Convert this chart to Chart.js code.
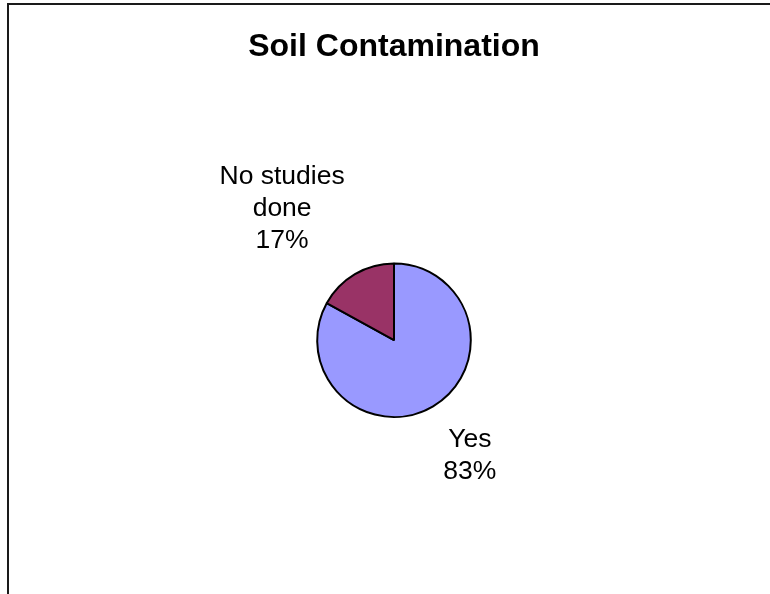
<!DOCTYPE html>
<html>
<head>
<meta charset="utf-8">
<title>Soil Contamination</title>
<script src="https://cdn.jsdelivr.net/npm/chart.js@4.4.0/dist/chart.umd.min.js"></script>
<style>
  html, body { margin: 0; padding: 0; background: #fff; }
  #wrap { position: relative; width: 770px; height: 594px; }
  #frame {
    position: absolute; left: 7px; top: 3px; right: 0; bottom: 0;
    border-top: 2px solid #1a1a1a; border-left: 2px solid #1a1a1a;
  }
  canvas { position: absolute; left: 0; top: 0; }
</style>
</head>
<body>
<div id="wrap">
  <div id="frame"></div>
  <canvas id="soilChart" width="770" height="594"></canvas>
</div>
<script>
// Survey answers
var categories = [["Yes"], ["No studies", "done"]];
var values = [83, 17];
var sliceColors = ["#9999FF", "#993366"];

var FONT = "'Liberation Sans', Arial, Helvetica, sans-serif";

// Labels sit outside each slice, the text block's nearest corner at the anchor
var outsideLabels = {
    id: 'outsideLabels',
    afterDatasetsDraw: function(chart) {
        var ctx = chart.ctx;
        var meta = chart.getDatasetMeta(0);
        var data = chart.data.datasets[0].data;
        var total = data.reduce(function(a, b) { return a + b; }, 0);
        var gap = 20, lineH = 32;
        ctx.save();
        ctx.font = "26.5px " + FONT;
        ctx.fillStyle = "#000";
        ctx.textAlign = "center";
        ctx.textBaseline = "middle";
        meta.data.forEach(function(arc, i) {
            var p = arc.getProps(['x', 'y', 'startAngle', 'endAngle', 'outerRadius'], true);
            var mid = (p.startAngle + p.endAngle) / 2;
            var ux = Math.cos(mid), uy = Math.sin(mid);
            var ax = p.x + ux * (p.outerRadius + gap);
            var ay = p.y + uy * (p.outerRadius + gap);
            var lines = chart.data.labels[i].concat([Math.round(data[i] / total * 100) + "%"]);
            var w = Math.max.apply(null, lines.map(function(t) { return ctx.measureText(t).width; }));
            var h = lines.length * lineH;
            var cx = ux < 0 ? ax - w / 2 : ax + w / 2;
            var top = uy < 0 ? ay - h : ay;
            lines.forEach(function(t, k) {
                ctx.fillText(t, cx, top + lineH * (k + 0.5));
            });
        });
        ctx.restore();
    }
};

var ctx = document.getElementById("soilChart").getContext("2d");
new Chart(ctx, {
    type: 'pie',
    data: {
        labels: categories,
        datasets: [{
            data: values,
            backgroundColor: sliceColors,
            borderColor: "#000",
            borderWidth: 2
        }]
    },
    options: {
        responsive: false,
        animation: false,
        layout: { padding: { left: 18, right: 0, top: 0, bottom: 176 } },
        plugins: {
            legend: { display: false },
            tooltip: { enabled: false },
            title: {
                display: true,
                text: "Soil Contamination",
                color: "#000",
                font: { family: FONT, size: 32, weight: "bold" },
                padding: { top: 28, bottom: 196 }
            }
        }
    },
    plugins: [outsideLabels]
});
</script>
</body>
</html>
